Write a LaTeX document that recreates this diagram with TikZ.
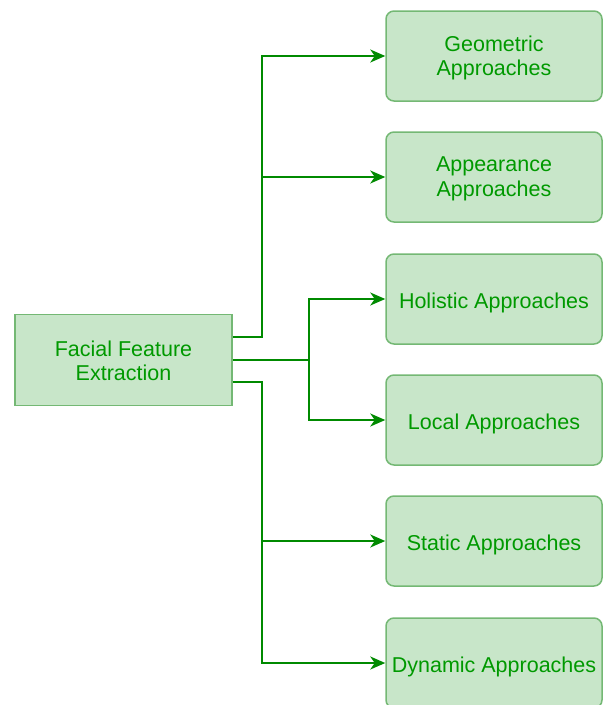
\documentclass[tikz,border=0pt]{standalone}
\usepackage{fontspec}
\setmainfont{Liberation Sans}
\usetikzlibrary{arrows.meta,calc}
\definecolor{boxfill}{HTML}{C8E6C9}
\definecolor{boxline}{HTML}{74B874}
\definecolor{txt}{HTML}{009900}
\definecolor{wire}{HTML}{008A00}
\begin{document}
\begin{tikzpicture}[x=1pt,y=1pt,
  base/.style={draw=boxline,fill=boxfill,line width=1.5pt,inner sep=0pt},
  lbl/.style={text=txt,font=\fontsize{21.5}{24.5}\selectfont,align=center,inner sep=0pt},
  leftbox/.style={base,minimum width=217pt,minimum height=91pt},
  rbox/.style={base,rounded corners=8pt,minimum width=216pt,minimum height=90pt},
  wirestyle/.style={draw=wire,line width=2pt,-{Stealth[length=15pt,width=13pt,inset=4.5pt]}}]
\useasboundingbox (0,0) rectangle (604,-705);
\node[leftbox] (L) at (123.5,-360) {};
\node[rbox] (g1) at (494,-56) {};
\node[rbox] (g2) at (494,-177) {};
\node[rbox] (g3) at (494,-299) {};
\node[rbox] (g4) at (494,-420) {};
\node[rbox] (g5) at (494,-541) {};
\node[rbox] (g6) at (494,-663) {};
\node[lbl] (tL) at ([yshift=-1pt]L.center) {Facial Feature\\Extraction};
\node[lbl] (t1) at ([yshift=-2pt]g1.center) {Geometric\\Approaches};
\node[lbl] (t2) at ([yshift=-2pt]g2.center) {Appearance\\Approaches};
\node[lbl] (t3) at ([yshift=-3.5pt]g3.center) {Holistic Approaches};
\node[lbl] (t4) at ([yshift=-3.5pt]g4.center) {Local Approaches};
\node[lbl] (t5) at ([yshift=-3.5pt]g5.center) {Static Approaches};
\node[lbl] (t6) at ([yshift=-3.5pt]g6.center) {Dynamic Approaches};
\coordinate (j1) at (262,-337);
\coordinate (j2) at (309,-360);
\coordinate (j3) at (262,-382);
\draw[wirestyle] (L.east |- j1) -- (j1) |- (g1.west);
\draw[wirestyle] (j1 |- g2.west) -- (g2.west);
\draw[wirestyle] (L.east |- j2) -- (j2) |- (g3.west);
\draw[wirestyle] (j2) |- (g4.west);
\draw[wirestyle] (L.east |- j3) -- (j3) |- (g6.west);
\draw[wirestyle] (j3 |- g5.west) -- (g5.west);
\end{tikzpicture}
\end{document}
